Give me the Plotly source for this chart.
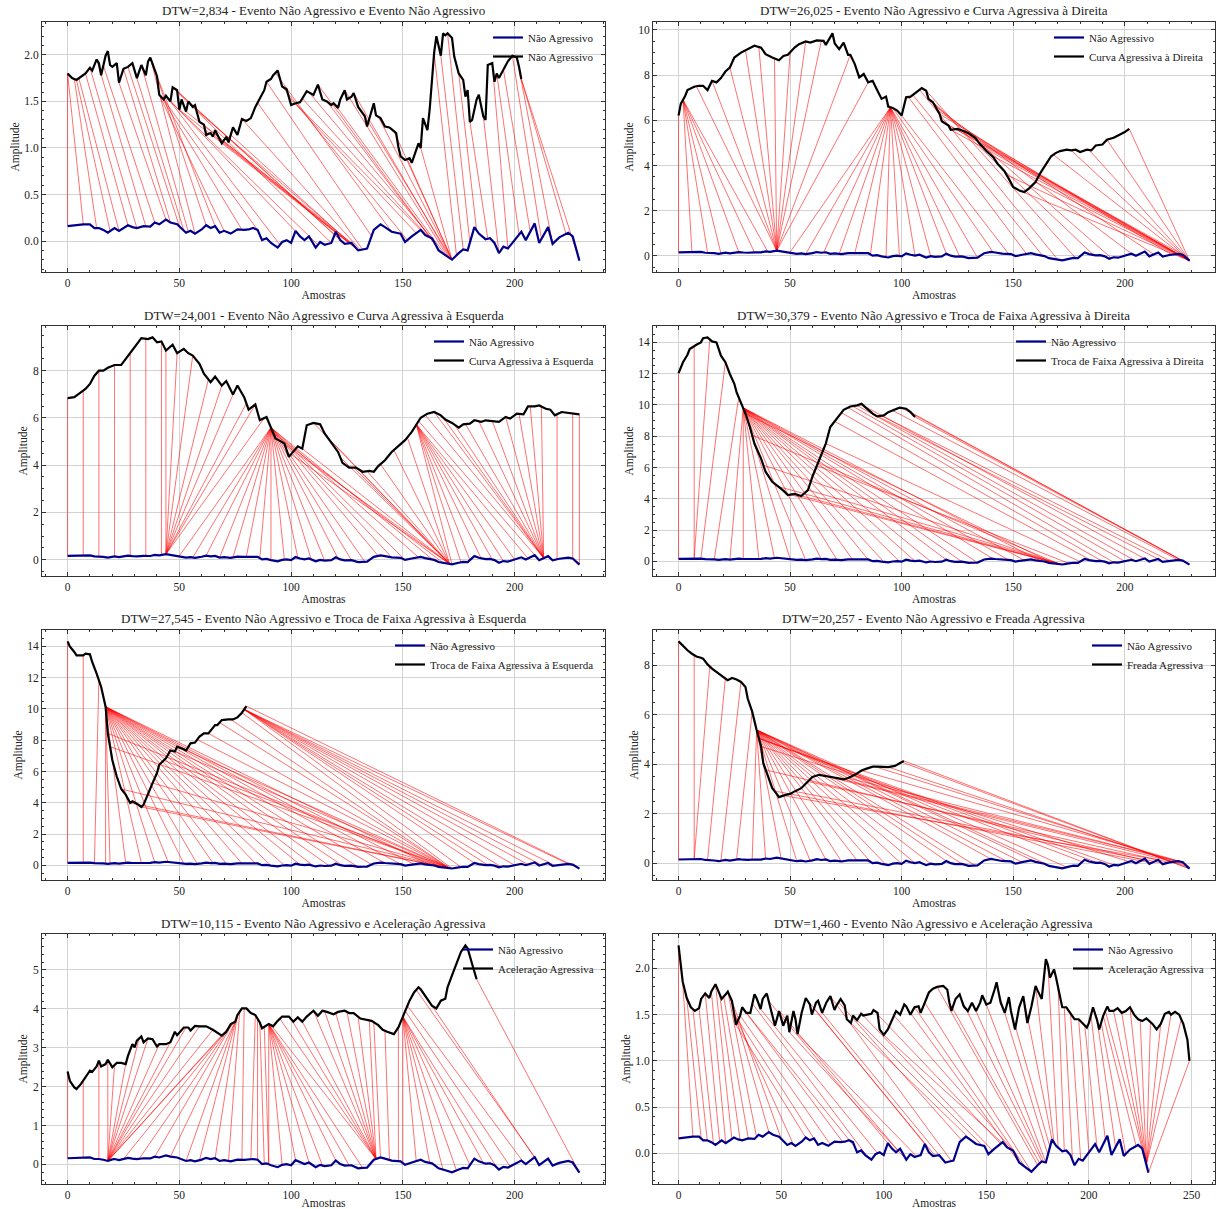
import numpy as np
import plotly.graph_objects as go

# ---------------- data ----------------
# Reference "Não Agressivo" series: (sample, amplitude)
BLUE = [(0,0.16),(3,0.17),(7,0.18),(10,0.18),(12,0.14),(14,0.14),(16,0.12),(18,0.09),(20,0.13),(21,0.14),
        (23,0.11),(25,0.14),(27,0.17),(29,0.15),(31,0.14),(34,0.16),(37,0.155),(39,0.20),(41,0.18),(44,0.23),
        (46,0.20),(49,0.18),(51,0.14),(53,0.09),(55,0.11),(57,0.08),(60,0.125),(62,0.17),(64,0.14),(66,0.16),
        (68,0.09),(70,0.11),(73,0.08),(76,0.125),(79,0.12),(81,0.125),(83,0.14),(85,0.12),(87,0.01),(89,0.03),
        (91,-0.02),(94,-0.07),(96,-0.01),(98,0.01),(100,-0.02),(102,0.11),(104,0.05),(106,0.01),(108,0.05),
        (111,-0.07),(113,-0.01),(115,-0.04),(118,-0.02),(120,0.10),(122,0.01),(124,-0.03),(127,-0.02),
        (130,-0.10),(132,-0.09),(134,-0.08),(137,0.12),(140,0.18),(142,0.15),(145,0.10),(149,0.08),(151,-0.01),
        (154,0.05),(158,0.12),(160,0.065),(163,0.03),(164,-0.01),(166,-0.10),(169,-0.15),(172,-0.20),
        (175,-0.13),(177,-0.09),(179,-0.10),(182,0.15),(184,0.08),(187,0.02),(189,0.03),(191,-0.02),
        (193,-0.13),(195,-0.06),(197,-0.08),(200,0.01),(203,0.10),(205,0.01),(209,0.19),(211,-0.02),
        (215,0.15),(217,-0.03),(220,0.04),(224,0.09),(226,0.05),(229,-0.21)]

BLACK1 = [(0,1.80),(2,1.75),(4,1.73),(5,1.75),(8,1.80),(10,1.86),(11,1.83),(13,1.95),(14,1.91),(15,1.78),
          (17,1.99),(18,2.04),(19,1.89),(20,1.87),(22,1.91),(23,1.70),(25,1.85),(27,1.87),(29,1.91),(31,1.75),
          (33,1.89),(35,1.78),(36,1.93),(37,1.97),(38,1.91),(40,1.77),(41,1.57),(43,1.52),(44,1.56),(46,1.50),
          (47,1.65),(49,1.62),(50,1.41),(51,1.52),(53,1.39),(54,1.50),(56,1.44),(57,1.46),(58,1.37),(59,1.28),
          (61,1.25),(62,1.14),(64,1.16),(65,1.12),(66,1.19),(67,1.14),(69,1.05),(71,1.12),(72,1.06),(74,1.22),
          (76,1.14),(78,1.31),(80,1.29),(82,1.32),(84,1.44),(86,1.53),(88,1.62),(89,1.71),(91,1.74),(92,1.78),
          (94,1.83),(96,1.66),(98,1.63),(100,1.46),(102,1.48),(104,1.49),(107,1.61),(110,1.57),(112,1.68),
          (114,1.52),(116,1.50),(118,1.46),(119,1.48),(121,1.43),(122,1.52),(124,1.62),(125,1.52),(127,1.55),
          (128,1.59),(130,1.44),(131,1.41),(133,1.34),(134,1.23),(137,1.48),(138,1.35),(140,1.32),(142,1.23),
          (144,1.22),(146,1.18),(147,1.16),(148,1.01),(149,0.91),(151,0.87),(153,0.89),(154,0.84),(155,0.91),
          (157,1.05),(158,1.00),(159,1.32),(161,1.19),(162,1.41),(164,2.02),(165,2.20),(167,1.99),(168,2.23),
          (169,2.21),(170,2.23),(172,2.18),(173,1.98),(175,1.80),(177,1.73),(178,1.55),(179,1.62),(180,1.28),
          (181,1.30),(183,1.52),(184,1.57),(186,1.34),(187,1.30),(188,1.89),(190,1.91),(191,1.71),(192,1.80),
          (193,1.75),(195,1.84),(197,1.93),(199,1.99),(201,1.97),(202,1.87),(203,1.74)]

BLACK2 = [(0,6.21),(1,6.73),(3,7.09),(4,7.34),(7,7.49),(9,7.53),(11,7.53),(13,7.34),(15,7.75),(17,7.68),
          (19,7.87),(21,8.16),(23,8.34),(25,8.78),(28,9.0),(31,9.15),(34,9.30),(37,9.22),(39,8.93),(42,8.78),
          (45,8.66),(47,8.85),(49,8.90),(52,9.22),(54,9.37),(57,9.49),(59,9.44),(62,9.54),(65,9.52),(66,9.34),
          (68,9.66),(69,9.85),(70,9.40),(72,9.15),(74,9.44),(76,8.90),(77,8.90),(79,8.49),(81,7.90),(83,8.05),
          (85,7.68),(87,7.75),(89,7.34),(91,6.95),(93,7.05),(94,6.61),(96,6.55),(98,6.43),(100,6.21),(102,7.02),
          (104,7.05),(107,7.28),(109,7.43),(111,7.31),(112,6.95),(114,6.80),(117,6.28),(118,5.96),(121,5.77),
          (122,5.58),(125,5.62),(128,5.52),(130,5.43),(133,5.23),(135,4.96),(138,4.64),(141,4.38),(143,4.08),
          (146,3.76),(148,3.42),(150,3.05),(153,2.88),(155,2.83),(157,2.98),(160,3.27),(162,3.64),(165,4.08),
          (167,4.41),(169,4.55),(171,4.64),(174,4.70),(176,4.67),(178,4.70),(180,4.60),(183,4.70),(185,4.67),
          (187,4.89),(190,4.93),(192,5.14),(195,5.23),(197,5.33),(200,5.48),(202,5.62)]

BLACK3 = [(0,6.84),(3,6.88),(5,7.02),(8,7.23),(10,7.44),(12,7.79),(14,8.0),(16,8.0),(18,8.12),(21,8.24),
          (24,8.24),(26,8.50),(28,8.78),(30,8.99),(33,9.38),(36,9.34),(38,9.41),(40,9.20),(42,9.24),(44,8.85),
          (47,9.10),(49,8.74),(52,8.92),(54,8.74),(56,8.64),(59,8.29),(61,7.87),(64,7.51),(66,7.75),(69,7.37),
          (71,7.56),(74,6.99),(76,7.37),(79,6.88),(81,6.35),(84,6.57),(86,5.90),(89,6.04),(91,5.59),(93,5.13),
          (95,5.03),(97,4.92),(99,4.35),(101,4.56),(103,4.80),(105,4.70),(107,5.69),(110,5.79),(113,5.73),
          (115,5.34),(118,4.94),(121,4.56),(123,4.10),(126,3.90),(129,3.90),(132,3.72),(135,3.76),(137,3.72),
          (139,3.96),(142,4.21),(145,4.56),(148,4.80),(151,5.06),(154,5.41),(156,5.73),(158,6.01),(161,6.18),
          (164,6.25),(167,6.11),(169,5.93),(172,5.79),(175,5.59),(177,5.73),(180,5.76),(182,5.90),(185,5.83),
          (187,5.90),(190,5.87),(193,5.83),(196,6.04),(198,5.97),(201,6.18),(204,6.15),(206,6.49),(209,6.49),
          (211,6.53),(214,6.39),(216,6.35),(218,6.11),(221,6.25),(225,6.21),(229,6.15)]

BLACK4 = [(0,12.03),(2,12.73),(4,13.21),(5,13.57),(8,13.85),(10,14.0),(11,14.27),(13,14.32),(15,14.06),
          (17,14.0),(19,13.15),(21,12.73),(23,11.98),(25,11.35),(26,10.82),(28,10.18),(30,9.44),(32,8.59),
          (34,7.53),(37,6.57),(39,5.73),(42,5.09),(45,4.77),(47,4.52),(49,4.24),(52,4.31),(55,4.18),(58,4.56),
          (60,5.41),(63,6.47),(66,7.53),(68,8.59),(71,9.12),(74,9.69),(77,9.90),(80,9.97),(82,10.07),(84,9.82),
          (87,9.44),(89,9.27),(92,9.33),(94,9.54),(97,9.69),(99,9.82),(102,9.76),(104,9.54),(106,9.23)]

BLACK5 = [(0,14.32),(1,14.0),(3,13.64),(4,13.43),(7,13.43),(8,13.53),(10,13.49),(11,13.0),(13,12.26),
          (15,11.41),(17,10.14),(18,8.44),(20,6.74),(22,5.68),(24,4.88),(26,4.52),(28,3.99),(29,4.09),(31,3.94),
          (33,3.73),(34,3.88),(36,4.62),(38,5.26),(40,5.90),(41,6.43),(44,6.85),(46,7.34),(48,7.28),(49,7.59),
          (52,7.42),(53,7.34),(55,7.80),(57,7.85),(59,8.23),(61,8.44),(63,8.44),(66,8.97),(67,8.97),(69,9.29),
          (72,9.33),(74,9.33),(76,9.46),(78,9.76),(80,10.18)]

BLACK6 = [(0,8.97),(2,8.77),(4,8.61),(6,8.47),(8,8.36),(10,8.31),(11,8.27),(13,8.04),(15,7.87),(18,7.67),
          (20,7.53),(22,7.40),(24,7.49),(26,7.43),(28,7.33),(30,7.13),(31,6.66),(33,6.13),(35,5.39),(37,4.72),
          (38,4.05),(40,3.51),(42,3.04),(44,2.81),(45,2.68),(48,2.77),(50,2.81),(52,2.91),(55,3.04),(58,3.31),
          (60,3.49),(63,3.58),(66,3.54),(69,3.49),(71,3.45),(74,3.40),(76,3.45),(79,3.58),(82,3.75),(84,3.82),
          (87,3.91),(89,3.91),(92,3.89),(94,3.89),(97,3.94),(99,4.05),(101,4.14)]

BLACK7 = [(0,2.39),(1,2.15),(3,1.98),(4,1.94),(6,2.07),(8,2.24),(10,2.41),(11,2.38),(13,2.52),(14,2.67),
          (15,2.52),(17,2.58),(18,2.69),(20,2.50),(22,2.61),(24,2.61),(26,2.58),(27,2.79),(29,3.09),(30,3.01),
          (31,3.18),(33,3.29),(34,3.14),(36,3.24),(38,3.22),(40,3.03),(41,3.09),(44,3.09),(46,3.14),(48,3.41),
          (49,3.32),(52,3.52),(54,3.52),(55,3.44),(57,3.56),(59,3.55),(62,3.55),(65,3.46),(67,3.38),(69,3.31),
          (71,3.41),(73,3.61),(75,3.67),(76,3.84),(78,4.01),(80,4.01),(82,3.89),(84,3.84),(86,3.65),(87,3.50),
          (90,3.61),(92,3.55),(94,3.69),(96,3.80),(99,3.80),(101,3.67),(103,3.78),(105,3.67),(107,3.80),
          (110,3.95),(112,3.82),(114,3.95),(116,3.92),(119,3.86),(121,3.92),(124,3.95),(126,3.89),(128,3.89),
          (131,3.75),(134,3.72),(136,3.69),(139,3.58),(141,3.46),(143,3.41),(146,3.35),(148,3.52),(150,3.80),
          (151,3.95),(153,4.21),(155,4.42),(157,4.55),(158,4.50),(161,4.26),(163,4.08),(165,4.01),(167,4.21),
          (169,4.26),(170,4.55),(172,4.86),(174,5.17),(176,5.46),(178,5.63),(179,5.55),(181,5.15),(183,4.76)]

BLACK8 = [(0,2.25),(1,2.06),(2,1.86),(4,1.68),(6,1.58),(8,1.54),(10,1.57),(11,1.67),(13,1.73),(15,1.68),
          (16,1.75),(18,1.83),(19,1.77),(21,1.67),(23,1.72),(24,1.75),(26,1.65),(28,1.39),(30,1.49),(31,1.58),
          (33,1.52),(35,1.52),(37,1.72),(38,1.68),(40,1.56),(41,1.67),(43,1.73),(45,1.56),(47,1.38),(49,1.54),
          (51,1.38),(53,1.49),(54,1.31),(56,1.54),(57,1.45),(58,1.29),(60,1.52),(62,1.68),(64,1.61),(65,1.50),
          (67,1.63),(68,1.65),(70,1.52),(72,1.63),(74,1.70),(76,1.55),(77,1.60),(79,1.67),(81,1.60),(82,1.45),
          (84,1.41),(85,1.49),(87,1.44),(89,1.51),(90,1.49),(92,1.50),(94,1.51),(95,1.55),(97,1.52),(98,1.34),
          (100,1.28),(102,1.34),(104,1.44),(106,1.54),(108,1.50),(110,1.61),(111,1.59),(113,1.50),(115,1.58),
          (117,1.59),(118,1.52),(120,1.63),(122,1.74),(124,1.78),(126,1.80),(129,1.81),(131,1.77),(132,1.63),
          (133,1.54),(135,1.67),(137,1.72),(139,1.59),(141,1.54),(143,1.63),(145,1.54),(147,1.63),(148,1.71),
          (150,1.61),(152,1.63),(154,1.77),(155,1.85),(157,1.63),(159,1.52),(161,1.69),(162,1.54),(164,1.34),
          (166,1.58),(168,1.70),(170,1.41),(172,1.59),(174,1.81),(175,1.76),(177,1.67),(179,2.10),(180,2.04),
          (181,1.90),(183,1.99),(184,1.90),(186,1.68),(187,1.58),(189,1.58),(191,1.52),(193,1.45),(195,1.45),
          (197,1.40),(199,1.36),(200,1.41),(202,1.58),(204,1.44),(205,1.34),(207,1.49),(209,1.59),(210,1.54),
          (212,1.54),(214,1.57),(216,1.52),(218,1.54),(220,1.58),(222,1.50),(224,1.45),(226,1.43),(228,1.46),
          (231,1.40),(233,1.34),(235,1.40),(237,1.51),(239,1.53),(240,1.50),(242,1.53),(244,1.50),(246,1.40),
          (248,1.23),(249,1.00)]

# DTW alignment connections drawn in red: (index in Não Agressivo, index in other event)
PAIRS1 = [(0,0),(7,0),(13,3),(19,4),(23,5),(27,8),(31,10),(35,13),(39,16),(44,23),(46,25),(50,27),(52,31),
          (54,33),(57,37),(62,38),(66,40),(70,41),(78,42),(85,43),(95,44),(105,45),(112,46),(118,47),(122,47),
          (124,48),(126,50),(127,53),(128,56),(129,60),(129,64),(130,68),(130,73),(131,78),(132,85),(136,89),
          (145,93),(152,96),(156,99),(159,102),(161,105),(163,108),(165,112),(167,116),(169,120),(170,124),
          (171,128),(172,133),(172,139),(172,146),(172,152),(172,158),(174,164),(177,167),(180,170),(183,175),
          (188,180),(193,186),(197,190),(202,192),(207,195),(212,199),(217,201),(223,203),(229,203)]
PAIRS2 = [(0,0),(6,2),(13,2),(19,2),(27,2),(34,2),(40,2),(44,8),(44,15),(44,23),(44,30),(44,36),(44,43),
          (44,50),(44,57),(44,64),(44,77),(44,85),(50,95),(57,95),(65,95),(72,95),(79,95),(86,95),(93,95),
          (99,95),(106,95),(113,95),(120,95),(126,95),(134,95),(141,96),(148,100),(156,103),(163,105),
          (170,108),(178,111),(186,113),(194,114),(203,115),(213,116),(221,117),(226,118),(228,120),(229,122),
          (229,126),(229,130),(229,135),(229,140),(229,147),(229,153),(229,160),(229,168),(229,176),(229,184),
          (229,192),(229,202)]
PAIRS3 = [(0,0),(7,7),(14,14),(21,21),(28,28),(35,35),(42,42),(44,44),(44,49),(44,56),(44,63),(44,69),
          (44,74),(44,80),(44,84),(44,88),(50,91),(56,91),(62,91),(68,91),(74,91),(80,91),(86,91),(91,91),
          (97,91),(103,91),(109,91),(115,91),(121,91),(127,91),(133,91),(139,91),(145,91),(151,91),(157,91),
          (163,91),(168,92),(171,95),(171,100),(171,105),(171,110),(171,116),(171,122),(171,128),(171,134),
          (171,140),(171,146),(171,152),(172,156),(176,156),(180,156),(185,156),(190,156),(195,156),(200,156),
          (206,156),(211,157),(213,160),(213,164),(213,168),(213,173),(213,178),(213,184),(213,190),(213,196),
          (213,202),(213,207),(213,212),(219,219),(226,226),(229,229)]
PAIRS4 = [(0,0),(7,7),(7,14),(10,21),(16,27),(23,29),(29,29),(36,29),(43,29),(50,29),(57,29),(64,29),
          (71,29),(78,29),(85,29),(92,29),(99,29),(106,29),(113,29),(120,29),(127,29),(134,29),(141,29),
          (148,29),(155,29),(162,29),(168,30),(171,33),(171,38),(171,45),(171,50),(171,54),(172,58),(175,62),
          (180,66),(185,70),(190,73),(195,76),(200,78),(205,80),(210,83),(215,87),(220,91),(224,96),(227,100),
          (229,104),(229,106)]
PAIRS5 = [(0,0),(7,7),(12,14),(17,17),(19,17),(26,17),(33,17),(39,17),(45,17),(52,17),(58,17),(65,17),
          (71,17),(78,17),(84,17),(91,17),(97,17),(104,17),(110,17),(117,17),(123,17),(130,17),(136,17),
          (142,17),(149,17),(155,17),(162,17),(168,18),(171,19),(171,24),(171,28),(171,33),(171,38),(171,43),
          (171,48),(171,53),(171,58),(171,63),(171,68),(171,73),(172,78),(176,79),(182,79),(188,79),(194,79),
          (200,79),(206,79),(212,79),(218,79),(224,79),(229,80)]
PAIRS6 = [(0,0),(7,7),(7,14),(13,21),(19,28),(26,33),(33,35),(39,35),(46,35),(53,35),(59,35),(66,35),
          (73,35),(80,35),(86,35),(93,35),(100,35),(106,35),(113,35),(120,35),(127,35),(133,35),(140,35),
          (147,35),(154,35),(160,35),(167,35),(174,35),(181,36),(188,36),(195,36),(202,37),(208,39),(212,43),
          (215,47),(218,52),(220,58),(222,64),(224,70),(225,76),(226,82),(227,88),(228,94),(229,100),(229,101)]
PAIRS7 = [(0,0),(7,7),(14,14),(18,18),(18,21),(18,26),(18,32),(18,36),(18,41),(18,46),(18,53),(18,59),
          (18,65),(18,70),(18,74),(25,74),(32,74),(39,74),(46,75),(53,75),(59,76),(66,76),(72,77),(78,79),
          (82,84),(85,85),(88,86),(90,88),(90,90),(96,90),(102,90),(108,90),(114,90),(120,90),(126,90),
          (132,90),(138,91),(138,95),(138,100),(138,105),(138,110),(138,115),(138,120),(138,125),(138,130),
          (138,135),(140,137),(144,142),(148,148),(150,150),(156,150),(162,150),(168,150),(174,150),(180,150),
          (186,150),(192,150),(198,151),(204,152),(209,156),(210,163),(229,183)]
PAIRS8 = [(0,0),(7,2),(11,4),(14,7),(17,10),(20,13),(23,16),(26,18),(30,20),(34,22),(38,24),(44,25),
          (50,26),(56,27),(62,28),(68,29),(74,30),(80,31),(86,33),(92,36),(97,40),(102,44),(107,49),(111,54),
          (116,58),(120,62),(125,66),(129,70),(133,74),(138,78),(143,82),(148,86),(153,90),(157,95),(160,100),
          (163,105),(166,110),(169,115),(172,120),(175,126),(176,132),(177,138),(178,144),(179,150),(180,156),
          (181,162),(182,168),(183,174),(185,180),(188,185),(192,188),(196,191),(200,195),(204,198),(208,201),
          (213,204),(218,206),(223,207),(227,208),(228,212),(228,216),(228,220),(228,225),(228,230),(228,235),
          (228,240),(228,245),(229,249)]

TITLES = ["DTW=2,834 - Evento Não Agressivo e Evento Não Agressivo",
          "DTW=26,025 - Evento Não Agressivo e Curva Agressiva à Direita",
          "DTW=24,001 - Evento Não Agressivo e Curva Agressiva à Esquerda",
          "DTW=30,379 - Evento Não Agressivo e Troca de Faixa Agressiva à Direita",
          "DTW=27,545 - Evento Não Agressivo e Troca de Faixa Agressiva à Esquerda",
          "DTW=20,257 - Evento Não Agressivo e Freada Agressiva",
          "DTW=10,115 - Evento Não Agressivo e Aceleração Agressiva",
          "DTW=1,460 - Evento Não Agressivo e Aceleração Agressiva"]
REF_LABEL = "Não Agressivo"
LABELS = ["Não Agressivo", "Curva Agressiva à Direita", "Curva Agressiva à Esquerda",
          "Troca de Faixa Agressiva à Direita", "Troca de Faixa Agressiva à Esquerda",
          "Freada Agressiva", "Aceleração Agressiva", "Aceleração Agressiva"]
BLACKS = [BLACK1, BLACK2, BLACK3, BLACK4, BLACK5, BLACK6, BLACK7, BLACK8]
PAIRS = [PAIRS1, PAIRS2, PAIRS3, PAIRS4, PAIRS5, PAIRS6, PAIRS7, PAIRS8]
Y_DTICK = [0.5, 2, 2, 2, 2, 2, 1, 0.5]
Y_MINOR = [0.1, 0.5, 0.5, 0.5, 0.5, 0.5, 0.2, 0.1]
Y_FMT = [".1f", "d", "d", "d", "d", "d", "d", ".1f"]
X_TITLE = "Amostras"
Y_TITLE = "Amplitude"

# ---------------- layout geometry (pixels) ----------------
W, H = 1217, 1209
COLS = [(42, 605), (653, 1215)]
ROWS = [(22, 272), (326, 576), (630, 880), (934, 1184)]
FONT = "Liberation Serif, Times New Roman, serif"
BLUE_C = "#00008b"
AX_C = "#333333"
GRID_C = "#d3d3d3"

bx = np.array([p[0] for p in BLUE], float)
by = np.array([p[1] for p in BLUE], float)

fig = go.Figure()
layout = dict(width=W, height=H, margin=dict(l=0, r=0, t=0, b=0),
              paper_bgcolor="white", plot_bgcolor="white",
              font=dict(family=FONT, size=11, color="#222"), annotations=[])

for k in range(8):
    r, c = divmod(k, 2)
    sfx = "" if k == 0 else str(k + 1)
    xref, yref = "x" + sfx, "y" + sfx
    lg = "legend" + sfx
    kx = np.array([p[0] for p in BLACKS[k]], float)
    ky = np.array([p[1] for p in BLACKS[k]], float)

    # red connection lines
    rx, ry = [], []
    for i, j in PAIRS[k]:
        rx += [i, j, None]
        ry += [float(np.interp(i, bx, by)), float(np.interp(j, kx, ky)), None]
    fig.add_trace(go.Scatter(x=rx, y=ry, mode="lines", xaxis=xref, yaxis=yref,
                             line=dict(color="rgba(255,0,0,0.8)", width=0.7),
                             showlegend=False, hoverinfo="skip"))
    fig.add_trace(go.Scatter(x=bx, y=by, mode="lines", xaxis=xref, yaxis=yref, name=REF_LABEL,
                             line=dict(color=BLUE_C, width=2.2), legend=lg))
    fig.add_trace(go.Scatter(x=kx, y=ky, mode="lines", xaxis=xref, yaxis=yref, name=LABELS[k],
                             line=dict(color="black", width=2.2), legend=lg))

    xmax = max(bx.max(), kx.max())
    ymin = min(by.min(), ky.min())
    ymax = max(by.max(), ky.max())
    ypad = 0.05 * (ymax - ymin)
    x0, x1 = COLS[c]
    t0, t1 = ROWS[r]
    common = dict(showline=True, linecolor=AX_C, linewidth=1, mirror="allticks",
                  ticks="inside", ticklen=4, tickcolor=AX_C, showgrid=True, gridcolor=GRID_C,
                  gridwidth=1, zeroline=False, automargin=False,
                  tickfont=dict(family=FONT, size=11.5, color="#222"))
    layout["xaxis" + sfx] = dict(common, domain=[x0 / W, x1 / W], anchor=yref,
                                 range=[-0.05 * xmax, 1.05 * xmax], tick0=0, dtick=50,
                                 minor=dict(ticks="inside", ticklen=2, dtick=10, tickcolor=AX_C, showgrid=False),
                                 title=dict(text=X_TITLE, font=dict(family=FONT, size=11.5), standoff=3))
    layout["yaxis" + sfx] = dict(common, domain=[1 - t1 / H, 1 - t0 / H], anchor=xref,
                                 range=[ymin - ypad, ymax + ypad], tick0=0, dtick=Y_DTICK[k],
                                 tickformat=Y_FMT[k],
                                 minor=dict(ticks="inside", ticklen=2, dtick=Y_MINOR[k], tickcolor=AX_C, showgrid=False),
                                 title=dict(text=Y_TITLE, font=dict(family=FONT, size=11.5), standoff=2))
    layout[lg] = dict(x=(x1 - 6) / W, y=1 - (t0 + 1) / H, xanchor="right", yanchor="top",
                      bgcolor="rgba(0,0,0,0)", borderwidth=0, itemwidth=30,
                      font=dict(family=FONT, size=11, color="#222"), tracegroupgap=0)
    layout["annotations"].append(dict(text=TITLES[k], x=(x0 + x1) / 2 / W, y=1 - (t0 - 11) / H,
                                      xref="paper", yref="paper", showarrow=False,
                                      xanchor="center", yanchor="middle",
                                      font=dict(family=FONT, size=13, color="#222")))

fig.update_layout(**layout)
fig.write_html("out.html", config={"displayModeBar": False},
               post_script="document.body.style.margin='0';document.body.style.overflow='hidden';")
